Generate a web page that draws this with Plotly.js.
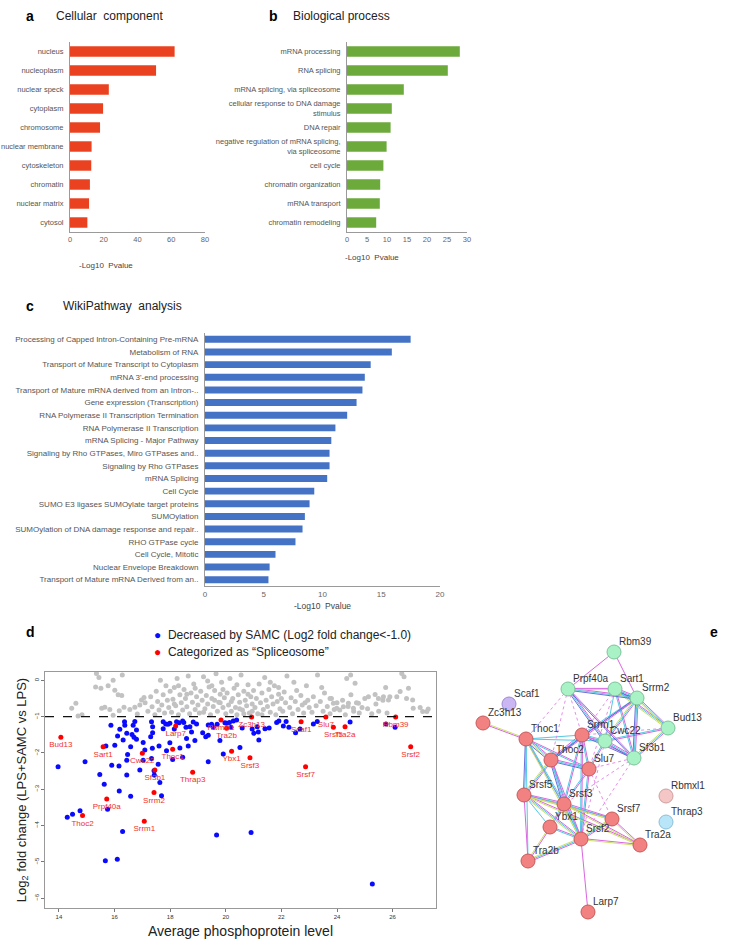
<!DOCTYPE html>
<html><head><meta charset="utf-8">
<script src="https://cdn.plot.ly/plotly-3.0.1.min.js"></script>
<style>html,body{margin:0;padding:0;background:#fff}#chart{width:751px;height:945px}</style>
</head><body><div id="chart"></div>
<script>
// ---------- DATA ----------
const ccTerms = ["nucleus","nucleoplasm","nuclear speck","cytoplasm","chromosome","nuclear membrane","cytoskeleton","chromatin","nuclear matrix","cytosol"];
const ccValues = [62, 51, 23, 19.6, 17.8, 12.8, 12.6, 11.8, 11.3, 10.3];

const bpTerms = ["mRNA processing","RNA splicing","mRNA splicing, via spliceosome","cellular response to DNA damage<br>stimulus","DNA repair","negative regulation of mRNA splicing,<br>via spliceosome","cell cycle","chromatin organization","mRNA transport","chromatin remodeling"];
const bpValues = [28.2, 25.2, 14.2, 11.2, 10.9, 9.9, 9.1, 8.3, 8.2, 7.3];

const wpTerms = ["Processing of Capped Intron-Containing Pre-mRNA","Metabolism of RNA","Transport of Mature Transcript to Cytoplasm","mRNA 3'-end processing","Transport of Mature mRNA derived from an Intron-..","Gene expression (Transcription)","RNA Polymerase II Transcription Termination","RNA Polymerase II Transcription","mRNA Splicing - Major Pathway","Signaling by Rho GTPases, Miro GTPases and..","Signaling by Rho GTPases","mRNA Splicing","Cell Cycle","SUMO E3 ligases SUMOylate target proteins","SUMOylation","SUMOylation of DNA damage response and repair..","RHO GTPase cycle","Cell Cycle, Mitotic","Nuclear Envelope Breakdown","Transport of Mature mRNA Derived from an.."];
const wpValues = [17.5, 15.9, 14.1, 13.6, 13.4, 12.9, 12.1, 11.1, 10.75, 10.6, 10.6, 10.4, 9.3, 8.9, 8.5, 8.3, 7.7, 6.0, 5.5, 5.4];

const grayX = [15.35,15.44,15.32,15.51,16.01,16.13,14.61,14.46,14.69,14.83,15.65,15.83,15.95,16.17,16.34,16.55,16.73,16.82,16.91,16.97,17.06,15.95,16.28,15.77,16.26,15.54,
17.1,17.2,17.3,17.35,17.45,17.5,17.55,17.6,17.7,17.75,17.8,17.85,17.9,17.95,18.0,17.65,
18.05,18.1,18.15,18.2,18.25,18.3,18.35,18.4,18.45,18.5,18.55,18.6,18.65,18.7,18.75,18.8,18.85,18.9,18.95,19.0,18.3,18.6,18.9,18.15,
19.05,19.1,19.15,19.2,19.25,19.3,19.35,19.4,19.45,19.5,19.55,19.6,19.65,19.7,19.75,19.8,19.85,19.9,19.95,20.0,19.2,19.5,19.8,19.35,19.6,19.9,
20.05,20.1,20.15,20.2,20.25,20.3,20.35,20.4,20.45,20.5,20.55,20.6,20.65,20.7,20.75,20.8,20.85,20.9,20.95,21.0,20.2,20.5,20.8,20.4,20.65,20.95,
21.05,21.1,21.15,21.2,21.25,21.3,21.35,21.4,21.45,21.5,21.55,21.6,21.65,21.7,21.75,21.8,21.85,21.9,21.95,22.0,21.3,21.6,21.9,
22.05,22.1,22.15,22.2,22.3,22.35,22.4,22.5,22.55,22.6,22.7,22.75,22.8,22.9,22.95,23.0,22.45,22.85,
23.1,23.15,23.25,23.3,23.4,23.5,23.55,23.65,23.75,23.8,23.9,24.0,23.45,23.87,23.99,23.75,
24.1,24.2,24.3,24.4,24.5,24.6,24.7,24.8,24.9,25.0,24.35,24.65,24.49,24.23,24.41,24.59,24.77,
25.1,25.25,25.4,25.5,25.65,25.8,25.9,25.75,25.13,25.37,25.49,25.67,25.85,
26.15,26.27,26.33,26.41,26.57,26.5,26.72,26.74,26.99,27.08,27.23,27.28];
const grayY = [0.19,0.08,-0.18,-0.22,-0.27,-0.40,-0.63,-0.77,-0.98,-0.95,-0.74,-0.80,-0.96,-0.84,-0.74,-0.80,-0.74,-0.93,-0.68,-0.54,-0.47,0.0,0.15,-0.15,-0.42,-0.77,
-0.62,-0.85,-0.45,-0.73,-0.95,-0.30,-0.58,-0.82,-0.68,-0.40,-0.90,-0.15,-0.55,-0.75,-0.30,0.0,
-0.88,-0.52,-0.20,-0.70,0.05,-0.95,-0.40,-0.62,-0.82,-0.25,-0.50,-0.73,0.12,-0.92,-0.35,-0.60,-0.10,-0.80,-0.45,-0.68,-0.15,-0.38,-0.22,-0.65,
-0.90,-0.30,-0.55,0.10,-0.78,-0.42,-0.65,-0.18,-0.95,-0.50,-0.72,-0.28,0.18,-0.85,-0.60,-0.38,-0.05,-0.75,-0.48,-0.92,-0.88,-0.15,-0.62,-0.02,-0.55,-0.25,
-0.35,-0.68,0.05,-0.85,-0.50,-0.22,-0.75,-0.95,-0.40,-0.60,0.15,-0.82,-0.30,-0.55,-0.70,-0.12,-0.90,-0.45,-0.65,-0.28,-0.58,-0.78,-0.38,-0.12,-0.92,-0.85,
-0.75,-0.50,-0.92,-0.10,-0.62,-0.35,-0.80,0.08,-0.55,-0.72,-0.25,-0.88,-0.45,-0.65,-0.15,-0.95,-0.58,-0.38,-0.78,-0.50,-0.95,-0.05,-0.20,
-0.85,-0.32,-0.62,0.12,-0.75,-0.48,-0.92,-0.58,-0.28,-0.80,-0.42,-0.68,-0.90,-0.15,-0.55,-0.75,-0.05,-0.62,
-0.88,-0.45,-0.70,0.15,-0.58,-0.85,-0.35,-0.72,-0.92,-0.50,-0.80,-0.62,-0.20,-0.63,-0.77,-0.50,
-0.82,-0.55,-0.95,-0.72,-0.40,-0.85,-0.62,-0.90,-0.75,-0.50,0.05,-0.08,0.15,-0.73,-0.63,-0.77,-0.63,
-0.78,-0.92,-0.65,-0.85,-0.55,-0.90,-0.45,-0.20,-0.45,-0.39,-0.50,-0.45,-0.54,
-0.45,-0.31,0.19,0.10,-0.22,-0.50,-0.54,-0.77,-0.75,-0.86,-0.86,-0.79];

const blueX = [15.87,16.19,16.36,16.37,16.67,16.73,16.79,16.11,16.44,16.63,16.70,16.79,16.01,15.69,16.47,16.44,17.03,17.03,17.33,17.37,17.37,17.30,17.75,17.84,17.99,17.75,18.23,18.45,18.57,18.71,18.83,18.95,18.59,18.65,18.89,19.17,19.28,19.37,19.37,19.49,19.55,19.79,19.91,19.97,20.19,20.27,20.39,20.51,17.87,18.09,18.45,17.57,17.42,17.43,17.63,16.91,17.33,16.44,15.90,16.16,15.47,15.63,14.94,13.97,19.37,16.17,16.58,17.69,15.75,14.76,14.49,14.30,16.29,19.67,15.67,16.10,20.91,25.27,20.59,20.95,21.01,21.13,21.17,21.19,21.41,21.56,21.83,21.91,22.07,22.17,22.27,22.51,22.67,23.15,23.29,24.47,25.76,26.09,17.92,17.60,17.99,18.32,18.49,18.15,18.77,19.69,20.03,20.13,17.09,17.36,18.35,16.31,16.58];
const blueY = [-1.24,-1.35,-1.14,-1.24,-1.24,-1.13,-1.37,-1.53,-1.46,-1.49,-1.57,-1.62,-1.79,-1.81,-2.04,-2.20,-1.71,-2.20,-1.14,-1.28,-1.44,-1.55,-1.14,-1.20,-1.18,-1.33,-1.14,-1.12,-1.29,-1.28,-1.15,-1.20,-1.60,-1.81,-1.66,-1.44,-1.55,-1.51,-1.23,-1.21,-1.29,-1.66,-2.03,-1.17,-1.29,-1.12,-1.09,-1.85,-1.94,-2.18,-2.12,-2.31,-2.49,-2.61,-2.81,-2.47,-2.15,-2.61,-2.34,-2.36,-2.59,-2.86,-2.24,-2.38,-2.24,-3.05,-3.19,-3.18,-3.55,-3.59,-3.69,-3.77,-4.16,-4.26,-4.97,-4.93,-4.19,-5.61,-1.31,-1.34,-1.46,-1.28,-1.42,-1.64,-1.33,-1.31,-1.16,-1.12,-1.26,-1.13,-1.29,-1.44,-1.34,-1.20,-1.13,-1.15,-1.20,-1.29,-1.21,-1.81,-1.72,-1.17,-1.16,-1.34,-1.42,-1.21,-1.18,-1.16,-1.92,-1.87,-1.86,-1.64,-1.83];

const spliceGenes = ["Bud13","Sart1","Cwc22","Thoc1","Larp7","Sf3b1","Thrap3","Rbmxl1","Tra2b","Zc3h13","Ybx1","Srsf3","Scaf1","Slu7","Srsf7","Srsf5","Tra2a","Rbm39","Srsf2","Prpf40a","Thoc2","Srrm2","Srrm1"];
const spliceX = [14.07,15.59,17.0,18.09,18.2,17.45,18.81,19.83,20.03,20.93,20.21,20.87,22.71,23.6,22.87,23.87,24.29,26.11,26.65,15.72,14.85,17.42,17.07];
const spliceY = [-1.57,-1.83,-2.01,-1.90,-1.26,-2.47,-2.53,-1.09,-1.32,-1.01,-1.95,-2.13,-1.14,-1.01,-2.38,-1.29,-1.28,-1.01,-1.83,-3.27,-3.72,-3.09,-3.88];

const xTicksD = [14,16,18,20,22,24,26];
const yTicksD = [0,-1,-2,-3,-4,-5,-6];

// network (panel e): node name, position in panel pixel frame, group
const netNodes = ["Rbm39","Prpf40a","Sart1","Srrm2","Scaf1","Zc3h13","Bud13","Thoc1","Srrm1","Cwc22","Sf3b1","Thoc2","Slu7","Srsf5","Srsf3","Srsf7","Ybx1","Srsf2","Tra2a","Tra2b","Larp7","Rbmxl1","Thrap3"];
const netX = [614,568,615,637,509,483,668,526,582,605,634,551,589,524,564,612,550,581,640,528,588,666,666];
const netY = [652,689,689,698,704,723,728,739,735,741,758,760,769,795,804,819,827,839,845,861,912,796,822];
const netGroup = ["g","g","g","g","p","r","g","r","r","g","g","r","r","r","r","r","r","r","r","r","r","pk","lb"];
const netEdges = [
 ["Rbm39","Prpf40a","m"],["Rbm39","Srrm2","m"],["Prpf40a","Sart1","my"],["Prpf40a","Srrm2","mcb"],["Prpf40a","Cwc22","mcb"],["Prpf40a","Sf3b1","mb"],
 ["Prpf40a","Thoc1","d"],["Prpf40a","Thoc2","d"],["Prpf40a","Srrm1","d"],["Sart1","Srrm2","mcb"],["Sart1","Bud13","mcy"],["Sart1","Sf3b1","mc"],
 ["Sart1","Cwc22","c"],["Sart1","Srrm1","d"],["Sart1","Slu7","d"],["Srrm2","Bud13","mcy"],["Srrm2","Sf3b1","mcb"],["Srrm2","Cwc22","mcy"],
 ["Srrm2","Srrm1","mc"],["Srrm2","Thoc2","mb"],["Bud13","Cwc22","mc"],["Bud13","Sf3b1","mcy"],["Bud13","Srrm1","d"],["Cwc22","Sf3b1","mcb"],
 ["Cwc22","Srrm1","mc"],["Cwc22","Slu7","mc"],["Cwc22","Srsf2","d"],["Zc3h13","Thoc1","ym"],["Thoc1","Thoc2","mcyb"],["Thoc1","Srrm1","c"],
 ["Thoc1","Cwc22","c"],["Thoc1","Slu7","mc"],["Thoc1","Srsf5","cb"],["Thoc1","Srsf3","cm"],["Thoc1","Srsf2","cy"],["Thoc1","Tra2b","c"],
 ["Thoc2","Srrm1","mcb"],["Thoc2","Slu7","mcb"],["Thoc2","Srsf3","mcb"],["Thoc2","Srsf5","mcy"],["Thoc2","Srsf2","mc"],["Srrm1","Slu7","mc"],
 ["Srrm1","Srsf3","mc"],["Srrm1","Srsf2","mc"],["Srrm1","Sf3b1","mb"],["Slu7","Srsf3","mc"],["Slu7","Srsf2","mc"],["Slu7","Sf3b1","d"],
 ["Slu7","Srsf7","d"],["Sf3b1","Srsf2","d"],["Sf3b1","Srsf3","d"],["Srsf5","Srsf3","mcy"],["Srsf5","Srsf2","mcy"],["Srsf5","Tra2b","m"],
 ["Srsf5","Srsf7","my"],["Srsf5","Tra2a","my"],["Srsf5","Ybx1","c"],["Srsf3","Srsf7","mcy"],["Srsf3","Srsf2","mcy"],["Srsf3","Tra2a","my"],
 ["Srsf3","Ybx1","mc"],["Srsf7","Srsf2","mcy"],["Srsf7","Tra2a","my"],["Ybx1","Srsf2","mc"],["Ybx1","Tra2b","my"],["Srsf2","Tra2b","mcy"],
 ["Srsf2","Tra2a","my"],["Srsf2","Larp7","m"]
];

// ---------- STYLE ----------
const FONT = "Liberation Sans, Arial, sans-serif";
const W = 751, H = 945;
const px = v => v / W, py = v => 1 - v / H;
const dom = (a, b) => [px(a), px(b)];
const vdom = (top, bottom) => [py(bottom), py(top)];

const edgeColors = {m:"#d656dc", c:"#40c4e4", y:"#c6de5a", b:"#5b5fd6", d:"#e384e8"};
const nodeFill = {g:"#a9f2c5", r:"#f28282", p:"#c9b6f2", pk:"#f4c6c6", lb:"#b9e5f8"};
const nodeLine = {g:"#7cc49a", r:"#c85a5a", p:"#9e8ad0", pk:"#d09e9e", lb:"#8cc0d8"};

const traces = [];
// a
traces.push({type:"bar", orientation:"h", x:ccValues, y:ccTerms, xaxis:"x", yaxis:"y",
  marker:{color:"#ea4220"}, width:0.55, hoverinfo:"skip"});
// b
traces.push({type:"bar", orientation:"h", x:bpValues, y:bpTerms, xaxis:"x2", yaxis:"y2",
  marker:{color:"#6caa3c"}, width:0.55, hoverinfo:"skip"});
// c
traces.push({type:"bar", orientation:"h", x:wpValues, y:wpTerms, xaxis:"x3", yaxis:"y3",
  marker:{color:"#4472c4"}, width:0.55, hoverinfo:"skip"});
// d
traces.push({type:"scatter", mode:"markers", x:grayX, y:grayY, xaxis:"x4", yaxis:"y4",
  marker:{color:"#c2c2c2", size:5}, hoverinfo:"skip"});
traces.push({type:"scatter", mode:"markers", x:blueX, y:blueY, xaxis:"x4", yaxis:"y4",
  marker:{color:"#0a0aff", size:5}, hoverinfo:"skip"});
traces.push({type:"scatter", mode:"markers+text", x:spliceX, y:spliceY, text:spliceGenes, xaxis:"x4", yaxis:"y4",
  textposition:"bottom center", textfont:{family:FONT, size:8, color:"#f03030"},
  marker:{color:"#ff0000", size:5}, hoverinfo:"skip", cliponaxis:false});

// e : edges
const idx = {}; netNodes.forEach((n,i)=>idx[n]=i);
const edgeTraces = {};
Object.keys(edgeColors).forEach(k=>edgeTraces[k]={x:[],y:[]});
netEdges.forEach(([a,b,kinds])=>{
  const x1=netX[idx[a]], y1=netY[idx[a]], x2=netX[idx[b]], y2=netY[idx[b]];
  const dx=x2-x1, dy=y2-y1, L=Math.hypot(dx,dy)||1;
  const nx=-dy/L, ny=dx/L;
  const ks = kinds.split("");
  ks.forEach((k,j)=>{
    const off = (j-(ks.length-1)/2)*1.2;
    const t = edgeTraces[k];
    t.x.push(x1+nx*off, x2+nx*off, null);
    t.y.push(y1+ny*off, y2+ny*off, null);
  });
});
Object.keys(edgeTraces).forEach(k=>{
  traces.push({type:"scatter", mode:"lines", x:edgeTraces[k].x, y:edgeTraces[k].y, xaxis:"x5", yaxis:"y5",
    line:{color:edgeColors[k], width:1, dash: k==="d" ? "dot" : "solid"}, opacity:0.9, hoverinfo:"skip"});
});
traces.push({type:"scatter", mode:"markers", x:netX, y:netY, xaxis:"x5", yaxis:"y5",
  marker:{size:14, color:netGroup.map(g=>nodeFill[g]), line:{color:netGroup.map(g=>nodeLine[g]), width:1}},
  hoverinfo:"skip", cliponaxis:false});
// node labels: up-right of each node
traces.push({type:"scatter", mode:"text", x:netX.map(v=>v+5), y:netY.map(v=>v-9.5), text:netNodes, xaxis:"x5", yaxis:"y5",
  textposition:"middle right", textfont:{family:FONT, size:10, color:"#333"}, hoverinfo:"skip", cliponaxis:false});

const catAxis = (d, cats, fs) => ({domain:d, type:"category", autorange:"reversed", showline:true, linecolor:"#9a9a9a", linewidth:1,
  ticks:"outside", ticklen:4, tickcolor:"rgba(0,0,0,0)", tickfont:{family:FONT, size:fs, color:"#555"},
  tickmode:"array", tickvals:cats, showgrid:false, zeroline:false, fixedrange:true});
const valAxis = (d, r, dt, fs) => ({domain:d, range:r, dtick:dt, tick0:0, showline:true, linecolor:"#9a9a9a", linewidth:1,
  ticks:"", tickfont:{family:FONT, size:fs, color:"#666"}, showgrid:false, zeroline:false, fixedrange:true});

const ann = [];
const addT = (x, y, text, size, opts={}) => ann.push(Object.assign({xref:"paper", yref:"paper", x:px(x), y:py(y), text:text,
  showarrow:false, xanchor:"left", yanchor:"middle", font:{family:FONT, size:size, color:"#222"}}, opts));
addT(24,16,"<b>a</b>",14,{font:{family:FONT,size:14,color:"#000"}});
addT(54,16,"Cellular  component",12);
addT(267,16,"<b>b</b>",14,{font:{family:FONT,size:14,color:"#000"}});
addT(291,16,"Biological process",12);
addT(24,306,"<b>c</b>",14,{font:{family:FONT,size:14,color:"#000"}});
addT(61,306,"WikiPathway  analysis",12);
addT(24,632,"<b>d</b>",14,{font:{family:FONT,size:14,color:"#000"}});
addT(708,632,"<b>e</b>",14,{font:{family:FONT,size:14,color:"#000"}});
addT(106,265,"-Log10  Pvalue",8,{xanchor:"center", font:{family:FONT,size:8,color:"#444"}});
addT(372,258,"-Log10  Pvalue",8,{xanchor:"center", font:{family:FONT,size:8,color:"#444"}});
addT(152,635,"<span style='color:#0a0aff'>●</span>  Decreased by SAMC (Log2 fold change<-1.0)",12,{font:{family:FONT,size:12,color:"#222"}});
addT(152,652,"<span style='color:#ff0000'>●</span>  Categorized as \u201cSpliceosome\u201d",12,{font:{family:FONT,size:12,color:"#222"}});

const layout = {
  width:W, height:H, margin:{l:0,r:0,t:0,b:0}, paper_bgcolor:"#fff", plot_bgcolor:"rgba(0,0,0,0)",
  showlegend:false, bargap:0.45,
  xaxis: valAxis(dom(70,205),[0,80],20,7.5),
  yaxis: catAxis(vdom(42,232), ccTerms, 7.5),
  xaxis2: Object.assign(valAxis(dom(347,467),[0,30],5,7.5), {anchor:"y2"}),
  yaxis2: Object.assign(catAxis(vdom(42,232), bpTerms, 7.5), {anchor:"x2"}),
  xaxis3: Object.assign(valAxis(dom(205,440),[0,20],5,8), {anchor:"y3",
    title:{text:"-Log10  Pvalue", font:{family:FONT,size:8.5,color:"#444"}, standoff:5}}),
  yaxis3: Object.assign(catAxis(vdom(333,586), wpTerms, 8), {anchor:"x3"}),
  xaxis4: {domain:dom(45,436), range:[13.5,27.56], anchor:"y4", showline:true, mirror:true, linecolor:"#999", linewidth:1,
    ticks:"outside", ticklen:3, tickcolor:"#777", tickmode:"array", tickvals:xTicksD, tickfont:{family:FONT,size:6,color:"#333"},
    showgrid:false, zeroline:false, fixedrange:true,
    title:{text:"Average phosphoprotein level", font:{family:FONT,size:14,color:"#222"}, standoff:6}},
  yaxis4: {domain:vdom(672,908), range:[-6.27,0.23], anchor:"x4", showline:true, mirror:true, linecolor:"#999", linewidth:1,
    ticks:"outside", ticklen:3, tickcolor:"#777", tickmode:"array", tickvals:yTicksD, tickangle:-90, tickfont:{family:FONT,size:6,color:"#333"},
    showgrid:false, zeroline:false, fixedrange:true,
    title:{text:"Log<sub>2</sub> fold change (LPS+SAMC vs LPS)", font:{family:FONT,size:13,color:"#222"}, standoff:4}},
  xaxis5: {domain:dom(480,751), range:[480,751], anchor:"y5", visible:false, fixedrange:true},
  yaxis5: {domain:vdom(620,945), range:[945,620], anchor:"x5", visible:false, fixedrange:true},
  shapes:[{type:"line", xref:"x4 domain", yref:"y4", x0:0, x1:1, y0:-1, y1:-1, line:{color:"#111", width:1.2, dash:"dash"}}],
  annotations: ann
};
Plotly.newPlot("chart", traces, layout, {staticPlot:true, displayModeBar:false});
</script></body></html>
